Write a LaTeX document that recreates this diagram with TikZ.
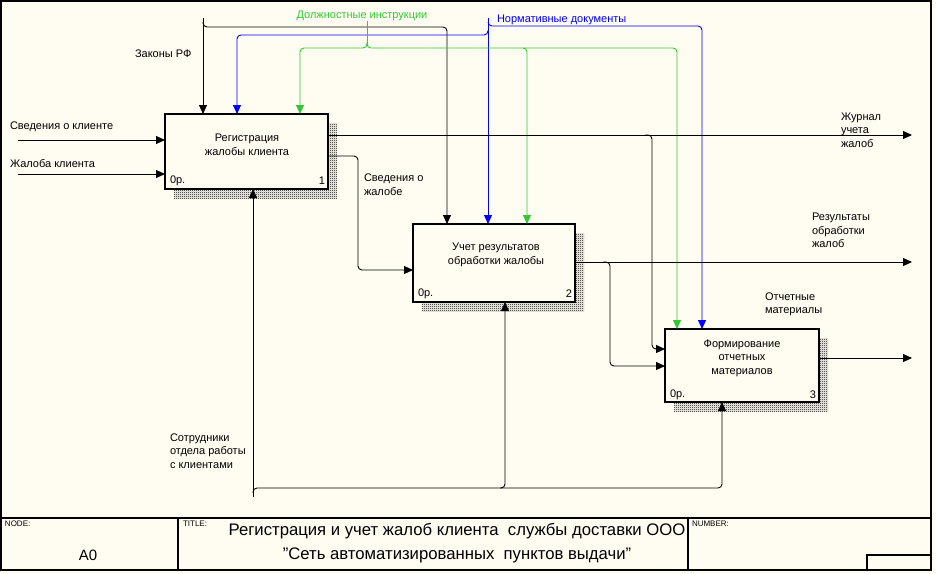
\documentclass[tikz,border=0pt]{standalone}
\usepackage{fontspec}
\setmainfont{Liberation Sans}
\usetikzlibrary{arrows.meta,patterns}
\definecolor{bg}{RGB}{255,252,242}
\definecolor{idgreen}{RGB}{51,200,51}
\definecolor{idblue}{RGB}{0,0,255}
\pgfdeclarepatternformonly{finechecker}{\pgfpointorigin}{\pgfpoint{2pt}{2pt}}{\pgfpoint{2pt}{2pt}}{%
 \pgfpathrectangle{\pgfpointorigin}{\pgfpoint{1pt}{1pt}}%
 \pgfpathrectangle{\pgfpoint{1pt}{1pt}}{\pgfpoint{1pt}{1pt}}%
 \pgfusepath{fill}}
\begin{document}
\begin{tikzpicture}[x=1pt,y=-1pt,
 every node/.style={inner sep=0pt, outer sep=0pt},
 lbl/.style={font=\fontsize{11}{13.5}\selectfont, align=left, anchor=west},
 btxt/.style={font=\fontsize{11}{13.5}\selectfont, align=center},
 corner/.style={font=\fontsize{11}{13}\selectfont},
 fnbox/.style={draw, line width=2.2pt, fill=bg, anchor=north west},
 shade/.style={pattern=finechecker, pattern color=black},
 arr/.style={line width=0.9pt, rounded corners=4pt, -{Triangle[length=9pt,width=8pt]}},
 ln/.style={line width=0.9pt, rounded corners=4pt},
 frame/.style={line width=1.3pt},
 small/.style={font=\fontsize{8}{9}\selectfont, anchor=north west}]
\useasboundingbox (0,0) rectangle (936,573);
\fill[bg] (0,0) rectangle (936,573);
% frame
\draw[frame] (1,1) rectangle (931,570);
\draw[frame] (1,518) -- (931,518);
\draw[frame] (178,518) -- (178,570);
\draw[frame] (688,518) -- (688,570);
\draw[frame] (867,570) |- (931,555);
\foreach \x in {83,488,645,799} \draw[frame] (\x,0) -- (\x,2);
\node[small] (nodelbl) at (5,521) {NODE:};
\node[small] (titlelbl) at (183,521) {TITLE:};
\node[small] (numlbl) at (692,521) {NUMBER:};
\node[font=\fontsize{15}{16}\selectfont] (nodeid) at (88,555) {A0};
\node[font=\fontsize{16.7}{24}\selectfont, align=center] (title) at (457,543) {Регистрация и учет жалоб клиента\ \ службы доставки ООО\\\symbol{34}Сеть автоматизированных\ \ пунктов выдачи\symbol{34}};
% shadows
\fill[shade] (174,123) rectangle (337,198);
\fill[shade] (422,233) rectangle (584,311);
\fill[shade] (674,338) rectangle (828,411);
% boxes
\node[fnbox, minimum width=163pt, minimum height=75pt] (b1) at (165,114) {};
\node[fnbox, minimum width=162pt, minimum height=78pt] (b2) at (413,224) {};
\node[fnbox, minimum width=154pt, minimum height=73pt] (b3) at (665,329) {};
\node[btxt] (b1t) at (247,145) {Регистрация\\жалобы клиента};
\node[btxt] (b2t) at (496,255) {Учет результатов\\обработки жалобы};
\node[btxt] (b3t) at (742,358) {Формирование\\отчетных\\материалов};
\node[corner, anchor=west] (b1c) at (170,181) {0р.};
\node[corner, anchor=east] (b1n) at (325,181) {1};
\node[corner, anchor=west] (b2c) at (418,294) {0р.};
\node[corner, anchor=east] (b2n) at (572,294) {2};
\node[corner, anchor=west] (b3c) at (670,395) {0р.};
\node[corner, anchor=east] (b3n) at (816,395) {3};
% coordinates
\coordinate (in1) at (18,140);
\coordinate (in2) at (18,174);
\coordinate (lawsrc) at (203,18);
\coordinate (normsrc) at (488,18);
\coordinate (dolsrc) at (367,21);
\coordinate (out1) at (912,135);
\coordinate (out2) at (912,262);
\coordinate (out3) at (912,358);
\coordinate (mechsrc) at (253,497);
% inputs
\draw[arr] (in1) -- (in1 -| b1.west);
\draw[arr] (in2) -- (in2 -| b1.west);
\node[lbl] (l_in1) at (10,127) {Сведения о клиенте};
\node[lbl] (l_in2) at (10,164) {Жалоба клиента};
% laws
\draw[arr] (lawsrc) -- (lawsrc |- b1.north);
\draw[arr] (203,22) -- (203,27) -- (447,27) -- (447,27 |- b2.north);
\node[lbl] (l_law) at (135,54) {Законы РФ};
% normative documents (blue)
\draw[arr, idblue] (normsrc) -- (normsrc |- b2.north);
\draw[arr, idblue] (488,22) -- (488,26) -- (702,26) -- (702,26 |- b3.north);
\draw[arr, idblue] (488,30) -- (488,35) -- (237,35) -- (237,35 |- b1.north);
\node[lbl, text=idblue] (l_norm) at (497,20) {Нормативные документы};
% job instructions (green)
\draw[ln, idgreen] (dolsrc) -- (367,44);
\draw[arr, idgreen] (367,43) -- (367,48) -- (300,48) -- (300,48 |- b1.north);
\draw[arr, idgreen] (367,43) -- (367,48) -- (677,48) -- (677,48 |- b3.north);
\draw[arr, idgreen] (523,48) -- (527,48) -- (527,48 |- b2.north);
\node[lbl, anchor=center, text=idgreen] (l_dol) at (362,16) {Должностные инструкции};
% outputs box1
\draw[arr] (b1.east |- out1) -- (out1);
\draw[arr] (645,135) -- (652,135) -- (652,349) -- (652,349 -| b3.west);
\node[lbl] (l_out1) at (841,130) {Журнал\\учета\\жалоб};
\draw[arr] (b1.east |- 0,156) -- (358,156) -- (358,270) -- (358,270 -| b2.west);
\node[lbl] (l_sv) at (364,184.5) {Сведения о\\жалобе};
% outputs box2
\draw[arr] (b2.east |- out2) -- (out2);
\draw[arr] (603,262) -- (610,262) -- (610,366) -- (610,366 -| b3.west);
\node[lbl] (l_out2) at (812,230.5) {Результаты\\обработки\\жалоб};
% output box3
\draw[arr] (b3.east |- out3) -- (out3);
\node[lbl] (l_out3) at (765,304.5) {Отчетные\\материалы};
% mechanism
\draw[arr] (mechsrc) -- (mechsrc |- b1.south);
\draw[arr] (253,493) -- (253,488) -- (505,488) -- (505,488 |- b2.south);
\draw[arr] (500,488) -- (722,488) -- (722,488 |- b3.south);
\node[lbl] (l_mech) at (170,451) {Сотрудники\\отдела работы\\с клиентами};
\end{tikzpicture}
\end{document}
